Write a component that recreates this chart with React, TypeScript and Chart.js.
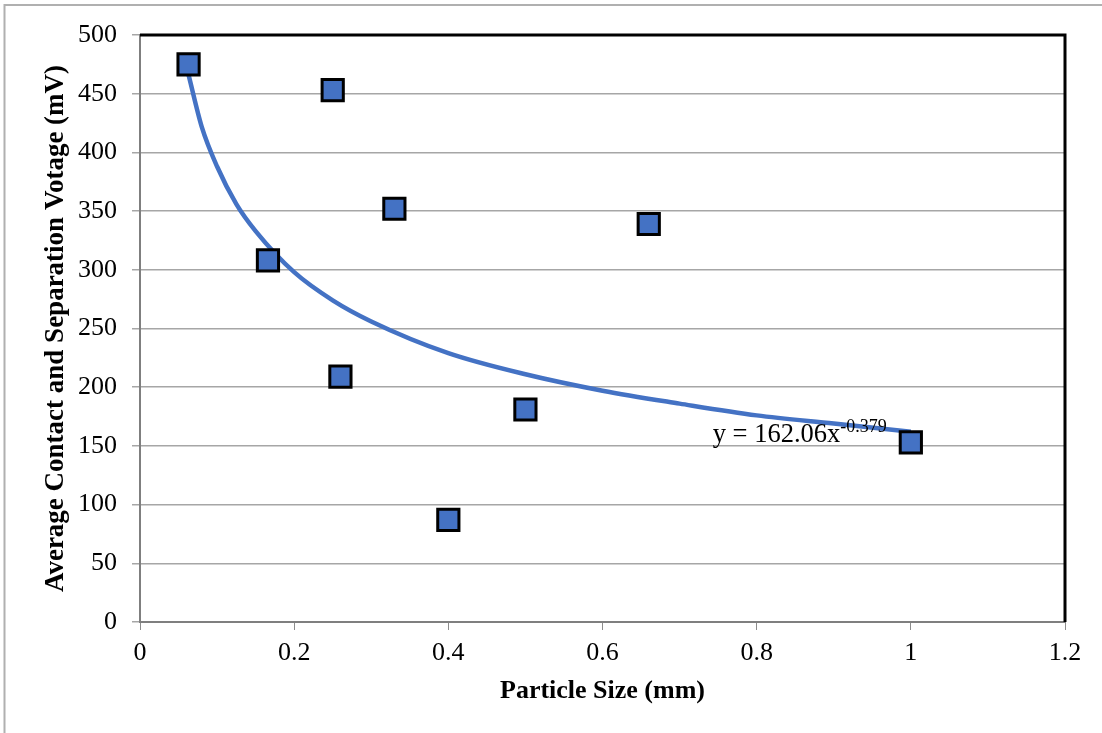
import React, { useEffect, useRef } from "react";
import { Chart, registerables } from "chart.js";

Chart.register(...registerables);

const particleSize = [0.063, 0.166, 0.25, 0.26, 0.33, 0.4, 0.5, 0.66, 1.0];
const voltage = [475, 308, 453, 209, 352, 87, 181, 339, 153];

const trendX = [0.063, 0.08, 0.1, 0.125, 0.15, 0.2, 0.25, 0.3, 0.4, 0.5, 0.6, 0.7, 0.8, 0.9, 1.0];
const trendY = [466, 422, 388, 356, 333, 298, 274, 256, 229, 211, 197, 186, 176, 169, 162];

const trendLabelMain = "y = 162.06x";
const trendLabelExp = "-0.379";
const trendLabelAt = { x: 0.743, y: 153 };

const xTitle = "Particle Size (mm)";
const yTitle = "Average Contact and Separation Votage (mV)";

const FONT = "'Liberation Serif', 'Times New Roman', serif";

const framePlugin = {
  id: "frame",
  beforeDraw(chart: any) {
    const ctx = chart.ctx;
    ctx.save();
    ctx.strokeStyle = "#b0b0b0";
    ctx.lineWidth = 2;
    ctx.beginPath();
    ctx.moveTo(4.5, 733);
    ctx.lineTo(4.5, 5);
    ctx.lineTo(1102, 5);
    ctx.stroke();
    ctx.restore();
  },
  afterDraw(chart: any) {
    const ctx = chart.ctx;
    const a = chart.chartArea;
    ctx.save();
    ctx.strokeStyle = "#000000";
    ctx.lineWidth = 3;
    ctx.beginPath();
    ctx.moveTo(a.left, a.top);
    ctx.lineTo(a.right, a.top);
    ctx.lineTo(a.right, a.bottom);
    ctx.stroke();
    const xs = chart.scales.x;
    const ys = chart.scales.y;
    const px = xs.getPixelForValue(trendLabelAt.x);
    const py = ys.getPixelForValue(trendLabelAt.y);
    ctx.fillStyle = "#000000";
    ctx.textBaseline = "alphabetic";
    ctx.textAlign = "left";
    ctx.font = `26.5px ${FONT}`;
    ctx.fillText(trendLabelMain, px, py);
    const w = ctx.measureText(trendLabelMain).width;
    ctx.font = `18px ${FONT}`;
    ctx.fillText(trendLabelExp, px + w, py - 10);
    ctx.restore();
  },
};

export default function App() {
  const ref = useRef<HTMLCanvasElement>(null);
  useEffect(() => {
    document.body.style.margin = "0";
    const canvas = ref.current;
    if (!canvas) return;
    const chart = new Chart(canvas, {
      type: "scatter",
      data: {
        datasets: [
          {
            label: "Voltage",
            data: particleSize.map((x, i) => ({ x, y: voltage[i] })),
            pointStyle: "rect",
            radius: 15,
            pointRadius: 15,
            pointBackgroundColor: "#4472C4",
            pointBorderColor: "#000000",
            pointBorderWidth: 3,
            showLine: false,
            order: 0,
          } as any,
          {
            label: "Trend",
            data: trendX.map((x, i) => ({ x, y: trendY[i] })),
            showLine: true,
            borderColor: "#4472C4",
            borderWidth: 4.5,
            pointRadius: 0,
            cubicInterpolationMode: "monotone",
            fill: false,
            order: 1,
          } as any,
        ],
      },
      options: {
        animation: false,
        responsive: false,
        maintainAspectRatio: false,
        layout: { padding: { left: 0, top: 35, right: 37, bottom: 0 } },
        plugins: {
          legend: { display: false },
          tooltip: { enabled: false },
        },
        scales: {
          x: {
            type: "linear",
            min: 0,
            max: 1.2,
            ticks: {
              stepSize: 0.2,
              color: "#000000",
              font: { family: FONT, size: 26 },
              padding: 8,
              maxRotation: 0,
              callback: (v: any) => String(Math.round(Number(v) * 10) / 10),
            },
            grid: {
              drawOnChartArea: false,
              drawTicks: true,
              tickLength: 8,
              color: "#8c8c8c",
            },
            border: { color: "#7f7f7f", width: 2 },
            title: {
              display: true,
              text: xTitle,
              color: "#000000",
              font: { family: FONT, size: 26, weight: "bold" },
              padding: { top: 0, bottom: 26 },
            },
            afterFit: (s: any) => {
              s.height = 111;
            },
          },
          y: {
            type: "linear",
            min: 0,
            max: 500,
            ticks: {
              stepSize: 50,
              color: "#000000",
              font: { family: FONT, size: 26 },
              padding: 15,
            },
            grid: {
              drawOnChartArea: true,
              drawTicks: true,
              tickLength: 8,
              color: "#a6a6a6",
              lineWidth: 1.5,
            },
            border: { color: "#7f7f7f", width: 2 },
            title: {
              display: true,
              text: yTitle,
              color: "#000000",
              font: { family: FONT, size: 27, weight: "bold" },
              padding: { top: 40, bottom: 0 },
            },
            afterFit: (s: any) => {
              s.width = 140;
            },
          },
        },
      } as any,
      plugins: [framePlugin],
    });
    return () => chart.destroy();
  }, []);
  return (
    <div style={{ position: "absolute", left: 0, top: 0, width: 1102, height: 733, background: "#fff" }}>
      <canvas ref={ref} width={1102} height={733} style={{ width: 1102, height: 733 }} />
    </div>
  );
}
